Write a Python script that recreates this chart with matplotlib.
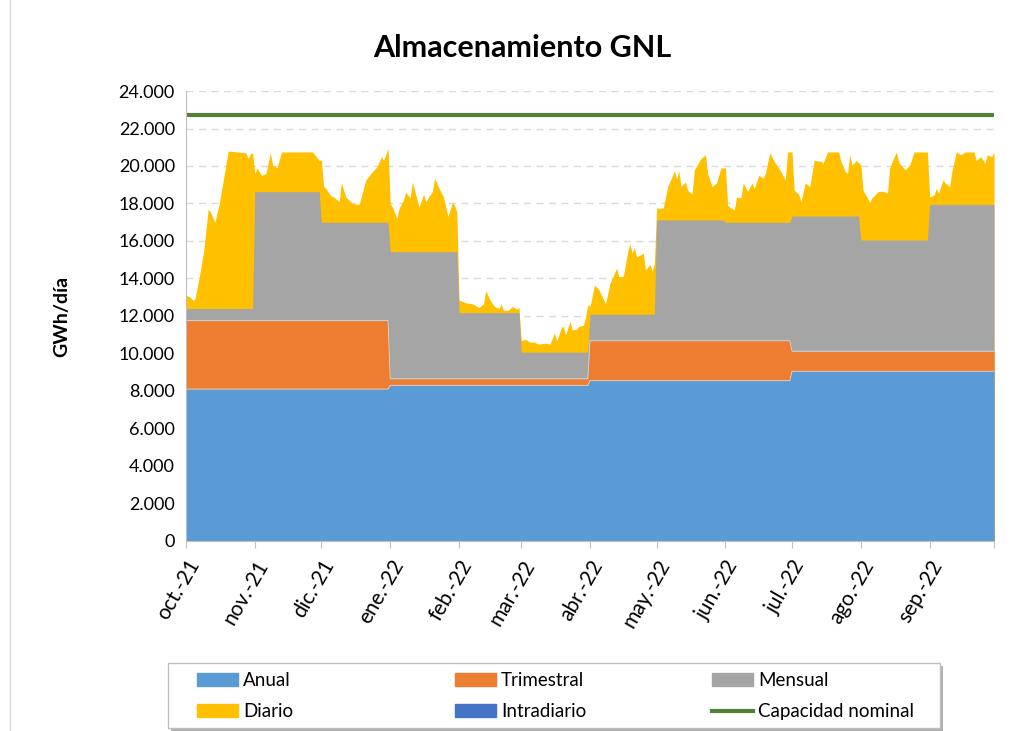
import matplotlib.pyplot as plt
from matplotlib.lines import Line2D
from matplotlib.patches import Patch, Rectangle
import pandas as pd

# month labels and monthly (stepped) products, GWh/d
months = ["oct.-21", "nov.-21", "dic.-21", "ene.-22", "feb.-22", "mar.-22",
          "abr.-22", "may.-22", "jun.-22", "jul.-22", "ago.-22", "sep.-22"]
anual = [8100, 8100, 8100, 8300, 8300, 8300, 8550, 8550, 8550, 9050, 9050, 9050]
trimestral = [3650, 3650, 3650, 350, 350, 350, 2130, 2130, 2130, 1070, 1070, 1070]
mensual = [650, 6880, 5250, 6780, 3530, 1420, 1410, 6440, 6320, 7210, 5930, 7830]
capacidad = 22700

# top of the stack (Anual+Trimestral+Mensual+Diario), day offset from 1 oct 2021
dias = [0, 2, 3, 4, 6, 8, 10, 11, 13, 15, 16, 19, 27, 28, 29, 30, 31, 32, 34, 36,
        38, 39, 41, 43, 57, 60, 61, 62, 63, 65, 67, 69, 70, 72, 75, 78, 81, 84, 86, 88,
        89, 91, 92, 93, 95, 96, 98, 99, 101, 102, 103, 105, 107, 108, 111, 112, 114, 116, 118, 120,
        121, 122, 123, 126, 129, 132, 134, 135, 137, 139, 141, 142, 143, 145, 147, 149, 150, 151, 153, 155,
        157, 159, 162, 164, 166, 167, 169, 170, 171, 173, 174, 176, 177, 179, 180, 181, 182, 184, 186, 189,
        191, 194, 195, 197, 199, 200, 201, 202, 203, 206, 207, 209, 210, 211, 212, 215, 217, 219, 220, 221,
        222, 223, 225, 226, 228, 229, 232, 234, 235, 237, 239, 241, 242, 243, 244, 247, 248, 250, 251, 253,
        255, 256, 258, 260, 261, 263, 265, 268, 270, 271, 273, 274, 276, 277, 279, 281, 283, 286, 287, 289,
        294, 295, 297, 298, 299, 300, 302, 304, 305, 307, 308, 309, 312, 314, 316, 317, 318, 320, 321, 322,
        324, 326, 328, 334, 335, 337, 338, 339, 341, 342, 344, 345, 347, 349, 351, 355, 356, 358, 360, 361,
        363, 364]
total = [13100, 13000, 12850, 12900, 14100, 15500, 17700, 17550, 17000, 18000, 18700, 20800, 20700, 20400, 20650, 20700, 19600, 19900, 19500, 19600,
         20700, 20050, 19900, 20750, 20750, 20300, 20300, 18900, 18800, 18450, 18300, 18100, 19100, 18350, 18000, 17950, 19250, 19700, 19950, 20500,
         20300, 20950, 18000, 17800, 17200, 17750, 18200, 18600, 18300, 19150, 18700, 17800, 18500, 18100, 18650, 19350, 18800, 18350, 17300, 18050,
         17900, 17550, 12850, 12700, 12650, 12450, 12650, 13350, 12850, 12500, 12400, 12650, 12300, 12300, 12500, 12370, 12450, 10700, 10750, 10600,
         10600, 10500, 10550, 10500, 11100, 10650, 11350, 11450, 11000, 11700, 11250, 11300, 11450, 11500, 11950, 12600, 12500, 13650, 13400, 12650,
         13750, 14550, 14100, 14100, 15450, 15850, 15350, 15650, 15150, 15350, 14450, 14750, 14400, 14800, 17750, 17750, 18900, 19450, 19750, 19300,
         19750, 18900, 19150, 18700, 18500, 19800, 20400, 20600, 19600, 18900, 19100, 19900, 19900, 19900, 17900, 17650, 18350, 18300, 19100, 18650,
         19100, 18800, 19500, 19350, 19600, 20700, 20250, 19700, 19250, 20750, 20750, 18700, 18500, 18100, 19100, 18900, 20300, 20250, 20150, 20750,
         20750, 20250, 19700, 19600, 20600, 20050, 20300, 20050, 18700, 18300, 18050, 18300, 18650, 18650, 18550, 19900, 20200, 20750, 20250, 20050,
         19800, 20050, 20750, 20750, 18350, 18450, 18800, 18550, 19250, 19100, 18900, 19700, 20750, 20600, 20750, 20750, 20300, 20500, 20150, 20600,
         20500, 20750]

colors = {"Anual": "#5B9BD5", "Trimestral": "#ED7D31", "Mensual": "#A5A5A5",
          "Diario": "#FFC000", "Intradiario": "#4472C4", "Capacidad": "#548235"}

plt.rcParams["font.family"] = ["Lato", "DejaVu Sans"]

starts = pd.date_range("2021-10-01", periods=13, freq="MS")
start_days = [(d - starts[0]).days for d in starts]
last_day = start_days[-1] - 1

# stepped levels: flat over each month, one-day ramp between months
xs, y_anual, y_trim, y_mens = [], [], [], []
for i in range(12):
    for x in (start_days[i], start_days[i + 1] - 1):
        xs.append(x)
        y_anual.append(anual[i])
        y_trim.append(anual[i] + trimestral[i])
        y_mens.append(anual[i] + trimestral[i] + mensual[i])

fig = plt.figure(figsize=(10.22, 7.31), dpi=100)
ax = fig.add_axes([0.182, 0.26, 0.7906, 0.6155])

ax.fill_between(dias, 0, total, color=colors["Diario"], lw=0)
ax.fill_between(xs, 0, y_mens, color=colors["Mensual"], lw=0)
ax.fill_between(xs, 0, y_trim, color=colors["Trimestral"], lw=0)
ax.fill_between(xs, 0, y_anual, color=colors["Anual"], lw=0)
ax.plot(xs, y_trim, color="#d9d9d9", lw=0.6)
ax.plot(xs, y_anual, color="#d9d9d9", lw=0.6)
ax.plot([0, last_day], [capacidad, capacidad], color=colors["Capacidad"], lw=3)

ax.set_xlim(0, last_day)
ax.set_ylim(0, 24000)
ax.set_yticks(range(0, 24001, 2000))
ax.set_yticklabels([f"{v:,}".replace(",", ".") for v in range(0, 24001, 2000)], fontsize=13)
ax.set_xticks(start_days[:12] + [last_day])
ax.set_xticklabels(months + [""], rotation=60, ha="right", rotation_mode="anchor", fontsize=15)
ax.tick_params(axis="x", length=5, color="#bfbfbf", pad=6)
ax.tick_params(axis="y", length=0, pad=8)
ax.grid(axis="y", color="#d9d9d9", ls=(0, (5, 4)), lw=1)
ax.set_axisbelow(True)
for s in ("top", "right"):
    ax.spines[s].set_visible(False)
for s in ("left", "bottom"):
    ax.spines[s].set_color("#bfbfbf")
ax.set_ylabel("GWh/día", fontsize=14, fontweight="bold")
ax.yaxis.set_label_coords(-0.143, 0.5)

fig.text(0.511, 0.935, "Almacenamiento GNL", ha="center", va="center",
         fontsize=22, fontweight="bold")

# legend: framed box with three columns, two rows
fig.add_artist(Rectangle((0.1674, 0.0), 0.7554, 0.0889, transform=fig.transFigure,
                         fc="#b0b0b0", ec="none", zorder=1))
fig.add_artist(Rectangle((0.1644, 0.004), 0.7554, 0.0889, transform=fig.transFigure,
                         fc="white", ec="#bfbfbf", lw=1, zorder=2))
columns = [
    ([Patch(color=colors["Anual"]), Patch(color=colors["Diario"])], ["Anual", "Diario"], 197),
    ([Patch(color=colors["Trimestral"]), Patch(color=colors["Intradiario"])], ["Trimestral", "Intradiario"], 455),
    ([Patch(color=colors["Mensual"]), Line2D([], [], color=colors["Capacidad"], lw=3)],
     ["Mensual", "Capacidad nominal"], 712),
]
for hs, ls, x_px in columns:
    fig.legend(hs, ls, loc="upper left", bbox_to_anchor=(x_px / 1022, 1 - 672 / 731),
               frameon=False, fontsize=13.5, handlelength=2.2, handleheight=0.7,
               handletextpad=0.25, labelspacing=0.75, borderpad=0, borderaxespad=0)

fig.add_artist(Line2D([0.0098, 0.0098], [0, 1], color="#d9d9d9", lw=1))

fig.savefig("out.png", dpi=100)
